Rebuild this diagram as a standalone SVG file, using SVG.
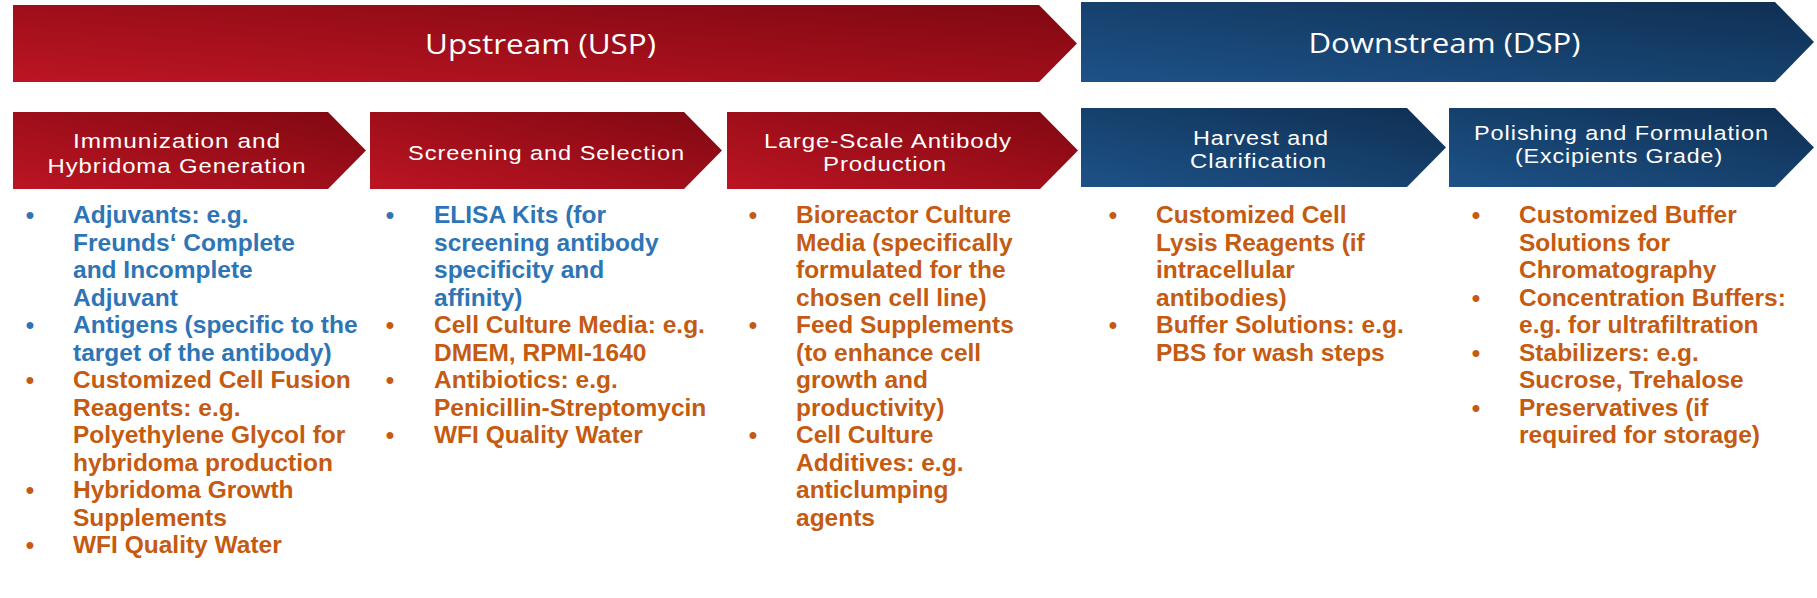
<svg xmlns="http://www.w3.org/2000/svg" width="1817" height="598" viewBox="0 0 1817 598">
  <defs>
    <linearGradient id="red" x1="0" y1="1" x2="1" y2="0">
      <stop offset="0" stop-color="#BC1522"/>
      <stop offset="1" stop-color="#800812"/>
    </linearGradient>
    <linearGradient id="blue" x1="0" y1="1" x2="1" y2="0">
      <stop offset="0" stop-color="#1D5288"/>
      <stop offset="1" stop-color="#0F2F52"/>
    </linearGradient>
    <style>
      .red { fill: url(#red); }
      .blue { fill: url(#blue); }
      .hdr { font-family: "Open Sans", "Liberation Sans", sans-serif; font-size: 28px; font-weight: 400; fill: #FFFFFF; text-anchor: middle; }
      .lbl { font-family: "Liberation Sans", Arial, sans-serif; font-size: 20.5px; font-weight: 400; letter-spacing: 0.8px; fill: #FFFFFF; text-anchor: middle; }
      .it { font-family: "Liberation Sans", Arial, sans-serif; font-size: 24.5px; font-weight: 700; }
      .b { fill: #2E75B6; }
      .o { fill: #C55A11; }
      .dot { font-family: "Liberation Sans", Arial, sans-serif; font-size: 24px; font-weight: 700; text-anchor: middle; }
    </style>
  </defs>
  <rect x="0" y="0" width="1817" height="598" fill="#FFFFFF"/>

  <g id="phase-usp">
    <polygon class="red" points="13,5 1039,5 1077,43.5 1039,82 13,82"/>
    <text class="hdr" x="540.5" y="54" textLength="231" lengthAdjust="spacingAndGlyphs">Upstream (USP)</text>
  </g>
  <g id="phase-dsp">
    <polygon class="blue" points="1081,2 1775,2 1814,42 1775,82 1081,82"/>
    <text class="hdr" x="1444.5" y="53" textLength="272" lengthAdjust="spacingAndGlyphs">Downstream (DSP)</text>
  </g>

  <g id="step-immunization">
    <polygon class="red" points="13,112 328,112 366,150.5 328,189 13,189"/>
    <text class="lbl" x="177" y="148" textLength="208" lengthAdjust="spacingAndGlyphs">Immunization and</text>
    <text class="lbl" x="177" y="173" textLength="259" lengthAdjust="spacingAndGlyphs">Hybridoma Generation</text>
  </g>
  <g id="step-screening">
    <polygon class="red" points="370,112 684,112 722,150.5 684,189 370,189"/>
    <text class="lbl" x="546.5" y="160" textLength="277" lengthAdjust="spacingAndGlyphs">Screening and Selection</text>
  </g>
  <g id="step-production">
    <polygon class="red" points="727,112 1040,112 1078,150.5 1040,189 727,189"/>
    <text class="lbl" x="888" y="148" textLength="248" lengthAdjust="spacingAndGlyphs">Large-Scale Antibody</text>
    <text class="lbl" x="885" y="171" textLength="124" lengthAdjust="spacingAndGlyphs">Production</text>
  </g>
  <g id="step-harvest">
    <polygon class="blue" points="1081,108 1407,108 1446,147.5 1407,187 1081,187"/>
    <text class="lbl" x="1261" y="145" textLength="136" lengthAdjust="spacingAndGlyphs">Harvest and</text>
    <text class="lbl" x="1258.5" y="168" textLength="137" lengthAdjust="spacingAndGlyphs">Clarification</text>
  </g>
  <g id="step-polishing">
    <polygon class="blue" points="1449,108 1775,108 1814,147.5 1775,187 1449,187"/>
    <text class="lbl" x="1621.5" y="140" textLength="295" lengthAdjust="spacingAndGlyphs">Polishing and Formulation</text>
    <text class="lbl" x="1619" y="163" textLength="208" lengthAdjust="spacingAndGlyphs">(Excipients Grade)</text>
  </g>

  <g id="list-immunization">
    <text class="dot b" x="30" y="223">•</text>
    <text class="dot b" x="30" y="333">•</text>
    <text class="dot o" x="30" y="388">•</text>
    <text class="dot o" x="30" y="498">•</text>
    <text class="dot o" x="30" y="553">•</text>
    <text class="it b" x="73" y="223">Adjuvants: e.g.</text>
    <text class="it b" x="73" y="250.5">Freunds‘ Complete</text>
    <text class="it b" x="73" y="278">and Incomplete</text>
    <text class="it b" x="73" y="305.5">Adjuvant</text>
    <text class="it b" x="73" y="333">Antigens (specific to the</text>
    <text class="it b" x="73" y="360.5">target of the antibody)</text>
    <text class="it o" x="73" y="388">Customized Cell Fusion</text>
    <text class="it o" x="73" y="415.5">Reagents: e.g.</text>
    <text class="it o" x="73" y="443">Polyethylene Glycol for</text>
    <text class="it o" x="73" y="470.5">hybridoma production</text>
    <text class="it o" x="73" y="498">Hybridoma Growth</text>
    <text class="it o" x="73" y="525.5">Supplements</text>
    <text class="it o" x="73" y="553">WFI Quality Water</text>
  </g>

  <g id="list-screening">
    <text class="dot b" x="390" y="223">•</text>
    <text class="dot o" x="390" y="333">•</text>
    <text class="dot o" x="390" y="388">•</text>
    <text class="dot o" x="390" y="443">•</text>
    <text class="it b" x="434" y="223">ELISA Kits (for</text>
    <text class="it b" x="434" y="250.5">screening antibody</text>
    <text class="it b" x="434" y="278">specificity and</text>
    <text class="it b" x="434" y="305.5">affinity)</text>
    <text class="it o" x="434" y="333">Cell Culture Media: e.g.</text>
    <text class="it o" x="434" y="360.5">DMEM, RPMI-1640</text>
    <text class="it o" x="434" y="388">Antibiotics: e.g.</text>
    <text class="it o" x="434" y="415.5">Penicillin-Streptomycin</text>
    <text class="it o" x="434" y="443">WFI Quality Water</text>
  </g>

  <g id="list-production">
    <text class="dot o" x="753" y="223">•</text>
    <text class="dot o" x="753" y="333">•</text>
    <text class="dot o" x="753" y="443">•</text>
    <text class="it o" x="796" y="223">Bioreactor Culture</text>
    <text class="it o" x="796" y="250.5">Media (specifically</text>
    <text class="it o" x="796" y="278">formulated for the</text>
    <text class="it o" x="796" y="305.5">chosen cell line)</text>
    <text class="it o" x="796" y="333">Feed Supplements</text>
    <text class="it o" x="796" y="360.5">(to enhance cell</text>
    <text class="it o" x="796" y="388">growth and</text>
    <text class="it o" x="796" y="415.5">productivity)</text>
    <text class="it o" x="796" y="443">Cell Culture</text>
    <text class="it o" x="796" y="470.5">Additives: e.g.</text>
    <text class="it o" x="796" y="498">anticlumping</text>
    <text class="it o" x="796" y="525.5">agents</text>
  </g>

  <g id="list-harvest">
    <text class="dot o" x="1113" y="223">•</text>
    <text class="dot o" x="1113" y="333">•</text>
    <text class="it o" x="1156" y="223">Customized Cell</text>
    <text class="it o" x="1156" y="250.5">Lysis Reagents (if</text>
    <text class="it o" x="1156" y="278">intracellular</text>
    <text class="it o" x="1156" y="305.5">antibodies)</text>
    <text class="it o" x="1156" y="333">Buffer Solutions: e.g.</text>
    <text class="it o" x="1156" y="360.5">PBS for wash steps</text>
  </g>

  <g id="list-polishing">
    <text class="dot o" x="1476" y="223">•</text>
    <text class="dot o" x="1476" y="305.5">•</text>
    <text class="dot o" x="1476" y="360.5">•</text>
    <text class="dot o" x="1476" y="415.5">•</text>
    <text class="it o" x="1519" y="223">Customized Buffer</text>
    <text class="it o" x="1519" y="250.5">Solutions for</text>
    <text class="it o" x="1519" y="278">Chromatography</text>
    <text class="it o" x="1519" y="305.5">Concentration Buffers:</text>
    <text class="it o" x="1519" y="333">e.g. for ultrafiltration</text>
    <text class="it o" x="1519" y="360.5">Stabilizers: e.g.</text>
    <text class="it o" x="1519" y="388">Sucrose, Trehalose</text>
    <text class="it o" x="1519" y="415.5">Preservatives (if</text>
    <text class="it o" x="1519" y="443">required for storage)</text>
  </g>

  <g id="connectors"></g>
</svg>
